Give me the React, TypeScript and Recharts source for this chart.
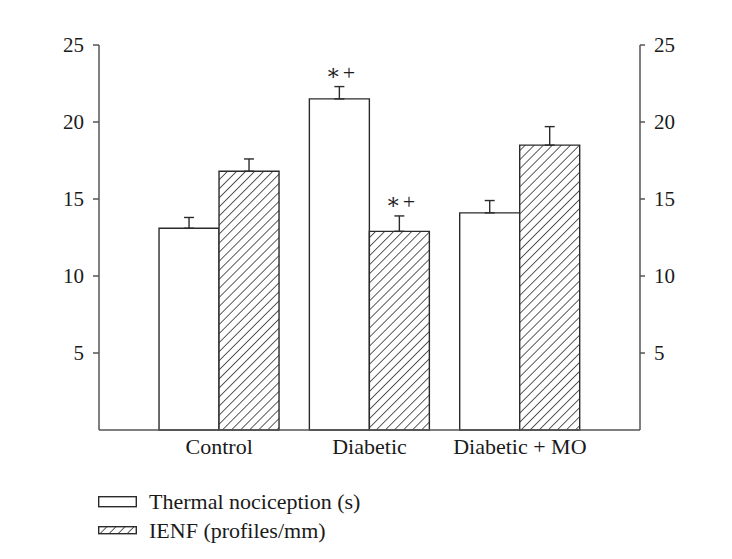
import { Bar, ComposedChart, ErrorBar, LabelList, Line, XAxis, YAxis } from 'recharts'

const groups = ['Control', 'Diabetic', 'Diabetic + MO']
const thermal = [13.1, 21.5, 14.1]
const thermalErr = [0.7, 0.8, 0.8]
const ienf = [16.8, 12.9, 18.5]
const ienfErr = [0.8, 1.0, 1.2]
const thermalMarks = ['', '∗+', '']
const ienfMarks = ['', '∗+', '']
const yTicks = [5, 10, 15, 20, 25]

const font = '"Liberation Serif", "DejaVu Serif", serif'
const ink = '#2b2b2b'

const data = groups.map((g, i) => ({
  group: g,
  thermal: thermal[i],
  thermalErr: [0, thermalErr[i]],
  thermalMark: thermalMarks[i],
  ienf: ienf[i],
  ienfErr: [0, ienfErr[i]],
  ienfMark: ienfMarks[i],
}))

// puts the significance mark just above the error bar cap
function markLabel(values: number[], errs: number[]) {
  return (props: any) => {
    const { x, y, width, height, value, index } = props
    if (!value) return null
    const ppu = height / values[index]
    const capY = y - errs[index] * ppu
    return (
      <text x={x + width / 2 + 2} y={capY - 7} textAnchor="middle" fontFamily={font} fontSize={22} fill="#1e1e1e" letterSpacing={2}>
        {value}
      </text>
    )
  }
}

const tickStyle = { fontFamily: font, fontSize: 21, fill: '#1a1a1a' }
const axisLine = { stroke: '#555', strokeWidth: 1.5 }

export default function App() {
  return (
    <div style={{ position: 'absolute', left: 0, top: 0, width: 732, height: 559, background: '#fff' }}>
      <ComposedChart
        width={732}
        height={559}
        data={data}
        margin={{ top: 45, right: 0, left: 0, bottom: 99 }}
        barCategoryGap="10%"
        barGap={0}
      >
        <defs>
          <pattern id="hatch" patternUnits="userSpaceOnUse" width={6.4} height={6.4} patternTransform="rotate(45)">
            <rect width={6.4} height={6.4} fill="#fff" />
            <line x1={0} y1={0} x2={0} y2={6.4} stroke="#333" strokeWidth={1.6} />
          </pattern>
        </defs>
        <XAxis
          dataKey="group"
          height={30}
          padding={{ left: 45, right: 45 }}
          tickLine={false}
          tickSize={0}
          tickMargin={8}
          tick={{ ...tickStyle, fontSize: 22 }}
          axisLine={axisLine}
        />
        <YAxis
          yAxisId="left"
          width={99}
          domain={[0, 25]}
          ticks={yTicks}
          tickSize={6}
          tickMargin={9}
          tick={tickStyle}
          axisLine={axisLine}
          tickLine={axisLine}
        />
        <YAxis
          yAxisId="right"
          orientation="right"
          width={92}
          domain={[0, 25]}
          ticks={yTicks}
          tickSize={5}
          tickMargin={9}
          tick={tickStyle}
          axisLine={axisLine}
          tickLine={axisLine}
        />
        <Bar yAxisId="left" dataKey="thermal" fill="#fff" stroke={ink} strokeWidth={1.4} isAnimationActive={false}>
          <ErrorBar dataKey="thermalErr" direction="y" width={5} stroke={ink} strokeWidth={1.4} isAnimationActive={false} />
          <LabelList dataKey="thermalMark" content={markLabel(thermal, thermalErr)} />
        </Bar>
        <Bar yAxisId="left" dataKey="ienf" fill="url(#hatch)" stroke={ink} strokeWidth={1.4} isAnimationActive={false}>
          <ErrorBar dataKey="ienfErr" direction="y" width={5} stroke={ink} strokeWidth={1.4} isAnimationActive={false} />
          <LabelList dataKey="ienfMark" content={markLabel(ienf, ienfErr)} />
        </Bar>
        {/* invisible series so the right-hand axis gets its scale and ticks */}
        <Line
          yAxisId="right"
          dataKey="ienf"
          stroke="transparent"
          dot={false}
          activeDot={false}
          legendType="none"
          isAnimationActive={false}
        />
      </ComposedChart>
      <div style={{ position: 'absolute', left: 98, top: 487, fontFamily: font, fontSize: 22, color: '#1a1a1a', lineHeight: '29px' }}>
        <div style={{ display: 'flex', alignItems: 'center' }}>
          <svg width={39} height={12} style={{ marginRight: 12 }}>
            <rect x={0.7} y={0.7} width={37.6} height={10} fill="#fff" stroke={ink} strokeWidth={1.4} />
          </svg>
          Thermal nociception (s)
        </div>
        <div style={{ display: 'flex', alignItems: 'center' }}>
          <svg width={39} height={9} style={{ marginRight: 12 }}>
            <rect x={0.7} y={0.7} width={37.6} height={7} fill="url(#hatch)" stroke={ink} strokeWidth={1.4} />
          </svg>
          IENF (profiles/mm)
        </div>
      </div>
    </div>
  )
}
